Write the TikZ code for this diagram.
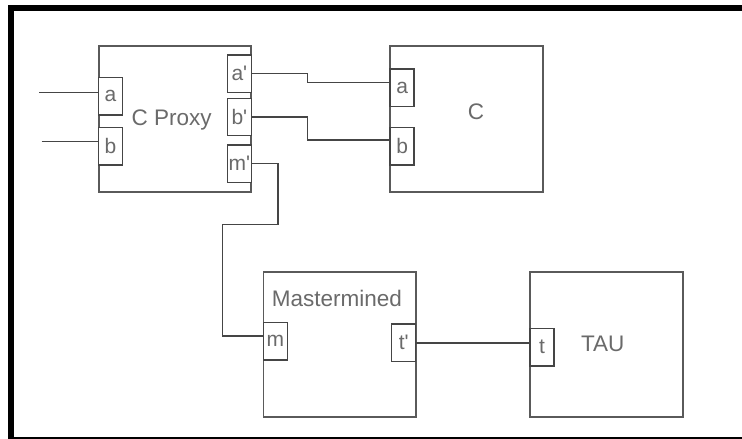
\documentclass[tikz,border=0pt]{standalone}
\usepackage{fontspec}
\setmainfont{Liberation Sans}
\definecolor{boxgray}{HTML}{5A5A5A}
\definecolor{wiregray}{HTML}{454545}
\definecolor{txtgray}{HTML}{6A6A6A}
\tikzset{
  blk/.style={draw=boxgray, line width=1.6pt, inner sep=0pt, fill=white},
  port/.style={draw=wiregray, line width=1.4pt, inner sep=0pt, fill=white,
    minimum width=24pt, minimum height=37.5pt, text=txtgray, font=\fontsize{21}{21}\selectfont},
  lbl/.style={inner sep=0pt, text=txtgray, font=\fontsize{22.5}{22.5}\selectfont},
  wire/.style={draw=wiregray, line width=1.4pt},
  frame/.style={draw=black, line width=6pt}
}
\begin{document}
\begin{tikzpicture}[x=1pt,y=-1pt]
\useasboundingbox (0,0) rectangle (742,439);
% frame
\draw[frame] (742,8) -- (11,8) -- (11,445);
\draw[frame] (8,440) -- (745,440);
% blocks
\node[blk, minimum width=152pt, minimum height=146.3pt] (cproxy) at (175,118.85) {};
\node[blk, minimum width=153pt, minimum height=146.3pt] (c) at (466.5,118.85) {};
\node[blk, minimum width=152.4pt, minimum height=145pt] (master) at (339.5,344.2) {};
\node[blk, minimum width=152.7pt, minimum height=145pt] (tau) at (606.35,344.2) {};
% titles
\node[lbl] (tcproxy) at (171.7,120) {C Proxy};
\node[lbl] (tc) at (476,111.7) {C};
\node[lbl] (tmaster) at (337,298) {Mastermined};
\node[lbl] (ttau) at (602.7,344.3) {TAU};
% ports of C Proxy
\node[port] (pa) at (110.5,96.35) {a};
\node[port] (pb) at (110.5,146.35) {b};
\node[port] (pap) at (239.35,73.65) {a\textquotesingle};
\node[port] (pbp) at (239.35,117) {b\textquotesingle};
\node[port] (pmp) at (239.35,163.65) {m\textquotesingle};
% ports of C
\node[port] (ca) at (402.15,87.65) {a};
\node[port] (cb) at (402.15,146.35) {b};
% ports of Mastermined
\node[port] (mm) at (275.3,341.15) {m};
\node[port] (mt) at (403.7,342.85) {t\textquotesingle};
% port of TAU
\node[port] (tt) at (542.15,347.15) {t};
% free ends
\coordinate (ina) at (39,92.3);
\coordinate (inb) at (41.7,141.7);
% wires
\draw[wire] (ina) -- (ina -| pa.west);
\draw[wire] (inb) -- (inb -| pb.west);
\draw[wire] (pap.east) -- ++(55.7,0) |- ([yshift=5pt]ca.west);
\draw[wire] (pbp.east) -- ++(55.7,0) |- ([yshift=6.3pt]cb.west);
\draw[wire] (pmp.east) -- ++(26,0) -- ++(0,61) -- ++(-55.6,0) |- ([yshift=5.2pt]mm.west);
\draw[wire] (mt.east) -- (mt.east -| tt.west);
\end{tikzpicture}
\end{document}
